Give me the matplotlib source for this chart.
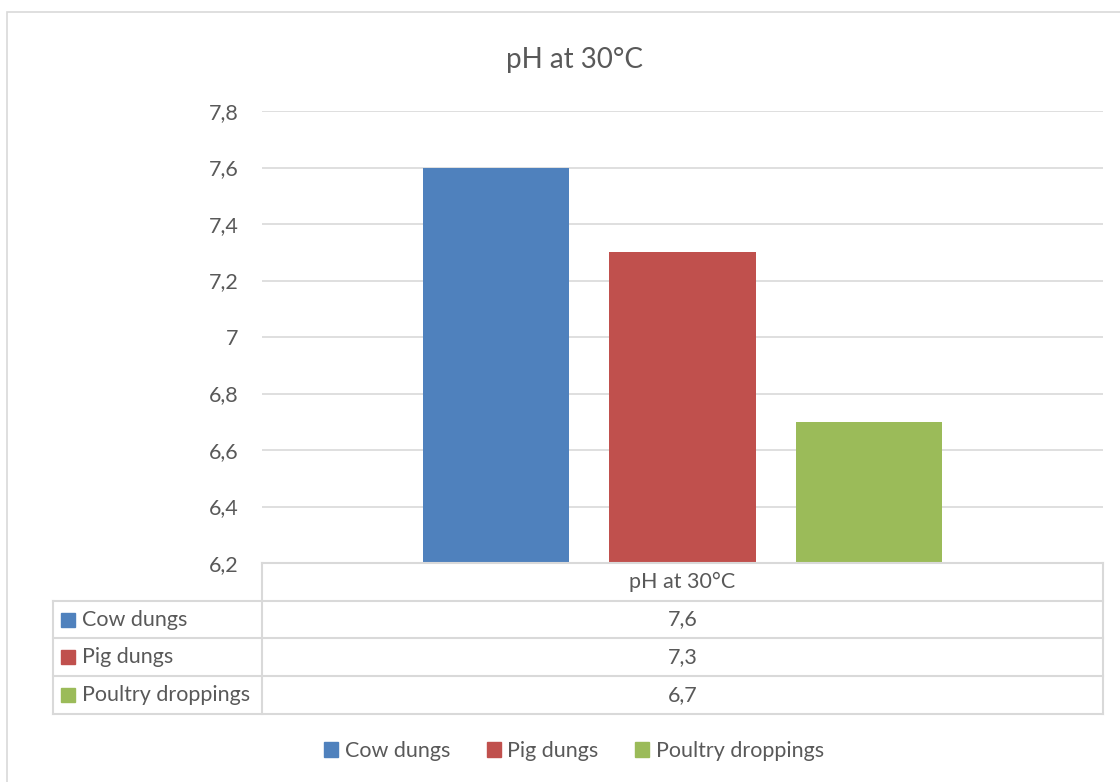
import matplotlib.pyplot as plt
from matplotlib.lines import Line2D
from matplotlib.patches import Rectangle

categories = ["Cow dungs", "Pig dungs", "Poultry droppings"]
ph_values = [7.6, 7.3, 6.7]
colors = ["#4f81bd", "#c0504d", "#9bbb59"]
y_ticks = [6.2, 6.4, 6.6, 6.8, 7.0, 7.2, 7.4, 7.6, 7.8]
series_name = "pH at 30°C"

W, H = 1120, 782
txt = "#595959"
grid = "#d9d9d9"
fs = 15.5
plt.rcParams['font.family'] = ['Lato', 'DejaVu Sans']

fig = plt.figure(figsize=(W / 100, H / 100), dpi=100)

def fx(px):
    return px / W

def fy(py):
    return 1 - py / H

# chart border
fig.patches.append(Rectangle((fx(7), fy(800)), fx(1200), fy(12) - fy(800),
                             transform=fig.transFigure, fill=False,
                             edgecolor=grid, lw=1.2))

left, right, top, bottom = 262, 1103, 111, 563
ax = fig.add_axes([fx(left), fy(bottom), fx(right - left), fy(top) - fy(bottom)])
x = list(range(len(categories)))
width = 147 / 187
ax.bar(x, [v - 6.2 for v in ph_values], bottom=6.2, width=width, color=colors, zorder=3)
ax.set_xlim(-0.393 - 161 / 187, 2.393 + 161 / 187)
ax.set_ylim(y_ticks[0], y_ticks[-1])
ax.set_yticks(y_ticks)
ax.set_yticklabels([f"{t:g}".replace(".", ",") for t in y_ticks], color=txt, fontsize=fs)
ax.tick_params(axis="y", length=0, pad=17)
ax.set_xticks([])
ax.grid(axis="y", color=grid, lw=1.2, zorder=0)
for s in ax.spines.values():
    s.set_visible(False)

fig.text(fx(574), fy(60), series_name, ha="center", va="center", color=txt, fontsize=20)

# data table
row_y = [563, 601, 638, 676, 714]
def hline(x0, x1, y):
    fig.add_artist(Line2D([fx(x0), fx(x1)], [fy(y), fy(y)], color=grid, lw=1.5))
def vline(xp, y0, y1):
    fig.add_artist(Line2D([fx(xp), fx(xp)], [fy(y0), fy(y1)], color=grid, lw=1.5))

hline(left, right, row_y[0])
for yy in row_y[1:]:
    hline(53, right, yy)
vline(left, row_y[0], row_y[-1])
vline(53, row_y[1], row_y[-1])
vline(right, row_y[0], row_y[-1])

mid = (left + right) / 2
fig.text(fx(mid), fy((row_y[0] + row_y[1]) / 2), series_name, ha="center", va="center",
         color=txt, fontsize=fs)
for i, (cat, val, c) in enumerate(zip(categories, ph_values, colors)):
    yc = (row_y[i + 1] + row_y[i + 2]) / 2
    fig.patches.append(Rectangle((fx(61), fy(yc + 7)), fx(14), fy(yc - 7) - fy(yc + 7),
                                 transform=fig.transFigure, color=c))
    fig.text(fx(82), fy(yc), cat, ha="left", va="center", color=txt, fontsize=fs)
    fig.text(fx(mid), fy(yc), f"{val:g}".replace(".", ","), ha="center", va="center",
             color=txt, fontsize=fs)

handles = [Rectangle((0, 0), 1, 1, color=c) for c in colors]
fig.legend(handles, categories, loc="center", bbox_to_anchor=(fx(574), fy(751)),
           ncol=3, frameon=False, fontsize=fs, labelcolor=txt,
           handlelength=0.65, handleheight=0.65, handletextpad=0.3, columnspacing=1.7)

fig.savefig("out.png", dpi=100)
